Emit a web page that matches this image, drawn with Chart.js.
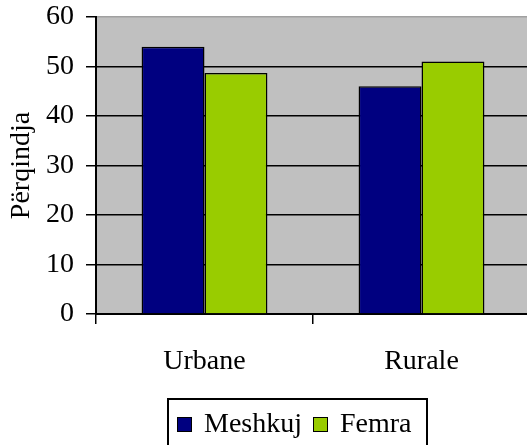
<!DOCTYPE html>
<html>
<head>
<meta charset="utf-8">
<script src="https://cdn.jsdelivr.net/npm/chart.js@4.4.0/dist/chart.umd.min.js"></script>
<style>
  html, body { margin: 0; padding: 0; background: #fff; }
  #wrap { position: relative; width: 527px; height: 445px; overflow: hidden; }
  #chart { position: absolute; left: 0; top: 0; }
  #legend {
    position: absolute; left: 167px; top: 398px; width: 261px; height: 60px;
    border: 2px solid #000; box-sizing: border-box;
    font-family: "Liberation Serif", serif; font-size: 28px; color: #000;
  }
  .item { position: absolute; top: 7px; white-space: nowrap; line-height: 32px; }
  .box { display: inline-block; width: 13px; height: 13px; border: 1.5px solid #000; vertical-align: 0px; margin-right: 12px; }
</style>
</head>
<body>
<div id="wrap">
  <canvas id="chart" width="532" height="400" style="width:532px;height:400px"></canvas>
  <div id="legend"></div>
</div>
<script>
const categories = ["Urbane", "Rurale"]
const seriesNames = ["Meshkuj", "Femra"]
const meshkuj = [54, 46]
const femra = [48.7, 51]
const yTicks = [0, 10, 20, 30, 40, 50, 60]
const colors = ["#000080", "#99CC00"]

const FONT = "'Liberation Serif', serif"

// gray plot background
const plotBg = {
  id: "plotBg",
  beforeDraw(chart) {
    const { ctx, chartArea: a } = chart
    ctx.save()
    ctx.fillStyle = "#C0C0C0"
    ctx.fillRect(a.left, a.top, a.right - a.left, a.bottom - a.top)
    ctx.restore()
  }
}

const chart = new Chart(document.getElementById("chart"), {
  type: "bar",
  data: {
    labels: categories,
    datasets: [meshkuj, femra].map((values, i) => ({
      label: seriesNames[i],
      data: values,
      backgroundColor: colors[i],
      borderColor: "#000",
      borderWidth: 1.5,
      categoryPercentage: 0.58,
      barPercentage: 1
    }))
  },
  options: {
    responsive: false,
    animation: false,
    layout: { padding: { top: 17, right: 2, left: 0, bottom: 0 } },
    plugins: {
      legend: { display: false },
      tooltip: { enabled: false }
    },
    scales: {
      x: {
        offset: true,
        grid: {
          offset: true,
          drawOnChartArea: false,
          drawTicks: true,
          tickLength: 10,
          color: "#000",
          lineWidth: 1.5
        },
        border: { color: "#000", width: 2 },
        ticks: { color: "#000", font: { family: FONT, size: 28 }, padding: 21 },
        afterFit: s => { s.height = 86 }
      },
      y: {
        min: 0,
        max: 60,
        afterBuildTicks: s => { s.ticks = yTicks.map(v => ({ value: v })) },
        grid: {
          color: ctx => (ctx.tick && ctx.tick.value === 60 ? "#A0A0A0" : "#000"),
          lineWidth: 1.5,
          tickLength: 10,
          tickColor: "#000"
        },
        border: { color: "#000", width: 2 },
        ticks: { color: "#000", font: { family: FONT, size: 28 }, padding: 12 },
        title: {
          display: true,
          text: "Përqindja",
          color: "#000",
          font: { family: FONT, size: 28 },
          padding: { top: 5, bottom: 0 }
        },
        afterFit: s => {
          s.width = 96
          s.paddingTop = 0
          s.paddingBottom = 0
        }
      }
    }
  },
  plugins: [plotBg]
})

// framed legend below the plot, built from the datasets
const legend = document.getElementById("legend")
const itemLeft = [8, 144]
chart.data.datasets.forEach((ds, i) => {
  const el = document.createElement("div")
  el.className = "item"
  el.style.left = itemLeft[i] + "px"
  const box = document.createElement("span")
  box.className = "box"
  box.style.background = ds.backgroundColor
  el.appendChild(box)
  el.appendChild(document.createTextNode(ds.label))
  legend.appendChild(el)
})
</script>
</body>
</html>
